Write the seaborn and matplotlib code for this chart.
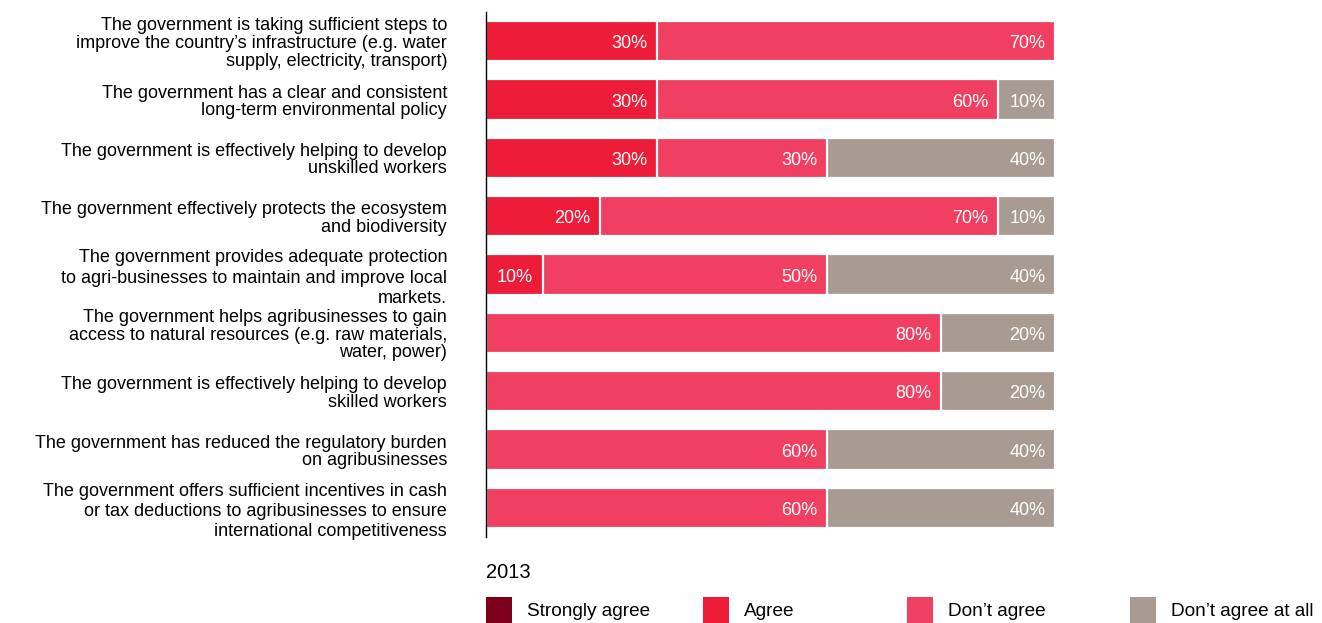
import matplotlib
matplotlib.use("Agg")
import matplotlib.pyplot as plt
from matplotlib.patches import Rectangle
import numpy as np
import pandas as pd
import seaborn as sns

# Survey statements (top to bottom)
statements = [
    "The government is taking sufficient steps to\nimprove the country\u2019s infrastructure (e.g. water\nsupply, electricity, transport)",
    "The government has a clear and consistent\nlong-term environmental policy",
    "The government is effectively helping to develop\nunskilled workers",
    "The government effectively protects the ecosystem\nand biodiversity",
    "The government provides adequate protection\nto agri-businesses to maintain and improve local\nmarkets.",
    "The government helps agribusinesses to gain\naccess to natural resources (e.g. raw materials,\nwater, power)",
    "The government is effectively helping to develop\nskilled workers",
    "The government has reduced the regulatory burden\non agribusinesses",
    "The government offers sufficient incentives in cash\nor tax deductions to agribusinesses to ensure\ninternational competitiveness",
]

# Response shares in percent
strongly_agree = [0, 0, 0, 0, 0, 0, 0, 0, 0]
agree = [30, 30, 30, 20, 10, 0, 0, 0, 0]
dont_agree = [70, 60, 30, 70, 50, 80, 80, 60, 60]
dont_agree_at_all = [0, 10, 40, 10, 40, 20, 20, 40, 40]

series_names = ["Strongly agree", "Agree", "Don\u2019t agree", "Don\u2019t agree at all"]
colors = ["#7c0019", "#ed1c38", "#f03f60", "#a89b91"]
year_label = "2013"

sns.set_theme(style="white")
plt.rcParams["font.family"] = ["Liberation Sans", "DejaVu Sans"]
plt.rcParams["text.color"] = "black"

df = pd.DataFrame({
    "statement": statements,
    "sa": strongly_agree,
    "a": agree,
    "da": dont_agree,
    "daa": dont_agree_at_all,
})
keys = ["sa", "a", "da", "daa"]
cum = df[keys].cumsum(axis=1)

W, H = 1322, 623
fig = plt.figure(figsize=(W / 100, H / 100), dpi=100)
ax = fig.add_axes([486 / W, 1 - 537 / H, (1055 - 486) / W, (537 - 12) / H])

# Stacked bars: draw cumulative totals from the widest down
for key, color in reversed(list(zip(keys, colors))):
    if cum[key].sum() == 0:
        continue
    sns.barplot(x=cum[key], y=df["statement"], orient="h", color=color,
                width=0.69, edgecolor="white", linewidth=1.6, ax=ax,
                saturation=1)

# Value labels at the inner end of each segment
for i in range(len(statements)):
    for key in keys:
        v = df.loc[i, key]
        if v > 0:
            ax.annotate(f"{v}%", xy=(cum.loc[i, key], i), xytext=(-7, -2),
                        textcoords="offset points", ha="right", va="center",
                        color="white", fontsize=13)

ax.set_xlim(0, 100)
ax.set_ylim(len(statements) - 0.5, -0.5)
ax.set_xlabel("")
ax.set_ylabel("")
ax.set_xticks([])
ax.tick_params(axis="y", length=0, pad=28, labelsize=13, labelcolor="black")
wide_rows = {4, 8}
for idx, lbl in enumerate(ax.get_yticklabels()):
    lbl.set_horizontalalignment("right")
    lbl.set_linespacing(1.25 if idx in wide_rows else 1.05)
for side in ["top", "right", "bottom"]:
    ax.spines[side].set_visible(False)
ax.spines["left"].set_color("black")
ax.spines["left"].set_linewidth(1.0)

# Legend row
fig.text(486 / W, 1 - 572 / H, year_label, fontsize=14.5, ha="left", va="center",
         color="black")
leg_x = [486, 703, 907, 1130]
for x, name, color in zip(leg_x, series_names, colors):
    fig.add_artist(Rectangle((x / W, 0), 26 / W, 26 / H, transform=fig.transFigure,
                             facecolor=color, edgecolor="none"))
    fig.text((x + 41) / W, 1 - 612 / H, name, fontsize=13.7, ha="left", va="center",
             color="black")

fig.savefig("out.png", dpi=100)
